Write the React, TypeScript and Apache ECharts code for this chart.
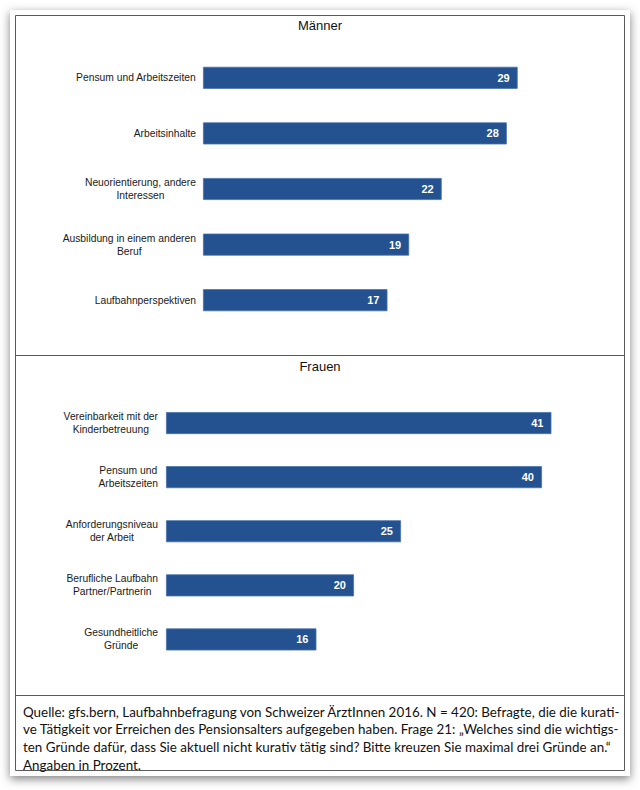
import React, { useEffect, useRef } from "react";
import * as echarts from "echarts";

const menTitle = "Männer";
const womenTitle = "Frauen";
const menCategories = [
  "Pensum und Arbeitszeiten",
  "Arbeitsinhalte",
  "Neuorientierung, andere\nInteressen",
  "Ausbildung in einem anderen\nBeruf",
  "Laufbahnperspektiven",
];
const menValues = [29, 28, 22, 19, 17];
const womenCategories = [
  "Vereinbarkeit mit der\nKinderbetreuung",
  "Pensum und\nArbeitszeiten",
  "Anforderungsniveau\nder Arbeit",
  "Berufliche Laufbahn\nPartner/Partnerin",
  "Gesundheitliche\nGründe",
];
const womenValues = [41, 40, 25, 20, 16];
const footerLines = [
  "Quelle: gfs.bern, Laufbahnbefragung von Schweizer ÄrztInnen 2016. N = 420: Befragte, die die kurati-",
  "ve Tätigkeit vor Erreichen des Pensionsalters aufgegeben haben. Frage 21: „Welches sind die wichtigs-",
  "ten Gründe dafür, dass Sie aktuell nicht kurativ tätig sind? Bitte kreuzen Sie maximal drei Gründe an.“",
  "Angaben in Prozent.",
];

const BAR = "#24518f";
const LABEL_FONT = "'Liberation Sans', Arial, Helvetica, sans-serif";

function catAxis(gridIndex: number, data: string[], margin: number) {
  return {
    type: "category",
    gridIndex,
    data,
    inverse: true,
    axisLine: { show: false },
    axisTick: { show: false },
    splitLine: { show: false },
    axisLabel: {
      margin,
      align: "right",
      formatter: (v: string) =>
        v
          .split("\n")
          .map((l) => `{c|${l}}`)
          .join("\n"),
      rich: {
        c: {
          align: "center",
          fontSize: 10.3,
          lineHeight: 13,
          color: "#1a1a1a",
          fontFamily: LABEL_FONT,
        },
      },
    },
  };
}

function valAxis(gridIndex: number, max: number) {
  return {
    type: "value",
    gridIndex,
    min: 0,
    max,
    show: false,
    splitLine: { show: false },
  };
}

function barSeries(idx: number, data: number[]) {
  return {
    type: "bar",
    xAxisIndex: idx,
    yAxisIndex: idx,
    data,
    barWidth: 22,
    itemStyle: { color: BAR, borderColor: "#4672ab", borderWidth: 0.8 },
    label: {
      show: true,
      position: "insideRight",
      offset: [-3, 0],
      color: "#ffffff",
      fontWeight: "bold",
      fontSize: 11,
      fontFamily: LABEL_FONT,
    },
  };
}

export default function App() {
  const ref = useRef<HTMLDivElement>(null);
  useEffect(() => {
    if (!ref.current) return;
    const chart = echarts.init(ref.current, undefined, { renderer: "svg" });
    const footerTexts = footerLines.map((t, i) => ({
      type: "text",
      left: 23,
      top: 705 + i * 17.7,
      z: 10,
      style: {
        text: t,
        fontSize: 13.4,
        fontFamily: "Lato, 'Open Sans', sans-serif",
        fill: "#111",
      },
    }));
    chart.setOption({
      animation: false,
      backgroundColor: "#ffffff",
      title: [
        {
          text: menTitle,
          left: "center",
          top: 14,
          textStyle: { fontSize: 13, fontWeight: "normal", color: "#111", fontFamily: LABEL_FONT },
        },
        {
          text: womenTitle,
          left: "center",
          top: 355,
          textStyle: { fontSize: 13, fontWeight: "normal", color: "#111", fontFamily: LABEL_FONT },
        },
      ],
      grid: [
        { left: 203, top: 50, width: 325.5, height: 278 },
        { left: 166, top: 396, width: 423, height: 270.5 },
      ],
      xAxis: [valAxis(0, 30), valAxis(1, 45)],
      yAxis: [catAxis(0, menCategories, 7), catAxis(1, womenCategories, 8)],
      series: [barSeries(0, menValues), barSeries(1, womenValues)],
      graphic: [
        {
          type: "rect",
          shape: { x: 10, y: 10, width: 620, height: 766 },
          style: { fill: "#ffffff", shadowBlur: 10, shadowColor: "rgba(0,0,0,0.5)", shadowOffsetY: 3 },
          z: -10,
          silent: true,
        },
        {
          type: "rect",
          shape: { x: 15.5, y: 15.5, width: 609, height: 755 },
          style: { fill: "none", stroke: "#5a5a5a", lineWidth: 1 },
          z: 5,
          silent: true,
        },
        {
          type: "line",
          shape: { x1: 15.5, y1: 355.5, x2: 624.5, y2: 355.5 },
          style: { stroke: "#5a5a5a", lineWidth: 1 },
          z: 5,
          silent: true,
        },
        {
          type: "line",
          shape: { x1: 15.5, y1: 695.5, x2: 624.5, y2: 695.5 },
          style: { stroke: "#5a5a5a", lineWidth: 1 },
          z: 5,
          silent: true,
        },
        ...footerTexts,
      ],
    });
    return () => chart.dispose();
  }, []);
  return (
    <div
      ref={ref}
      style={{ position: "absolute", left: 0, top: 0, width: 640, height: 790 }}
    />
  );
}
